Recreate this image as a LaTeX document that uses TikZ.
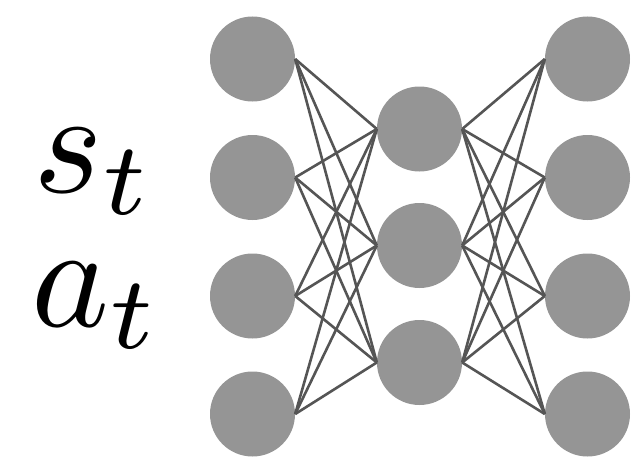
\documentclass[tikz,border=0pt]{standalone}
\usepackage{graphicx}
\begin{document}
\begin{tikzpicture}[x=1pt,y=-1pt,
  neuron/.style={circle,fill=neurongray,draw=none,minimum size=85pt,inner sep=0pt},
  link/.style={draw=linkgray,line width=2.6pt},
  lbl/.style={anchor=base west,inner sep=0pt}]
\definecolor{neurongray}{HTML}{959595}
\definecolor{linkgray}{HTML}{555555}
\useasboundingbox (0,0) rectangle (631,460);
\foreach \i/\y in {1/59,2/177.5,3/296,4/414}{
  \node[neuron] (l\i) at (252.5,\y) {};
  \node[neuron] (r\i) at (587.5,\y) {};
}
\foreach \j/\y in {1/129,2/245.5,3/362.5}{
  \node[neuron] (m\j) at (419.5,\y) {};
}
\foreach \i in {1,...,4}{
  \foreach \j in {1,...,3}{
    \draw[link] (l\i.east) -- (m\j.west);
    \draw[link] (m\j.east) -- (r\i.west);
  }
}
\node[lbl] (s) at (33,192) {\scalebox{14.8}{$s_t$}};
\node[lbl] (a) at (31,326) {\scalebox{14.8}{$a_t$}};
\end{tikzpicture}
\end{document}
